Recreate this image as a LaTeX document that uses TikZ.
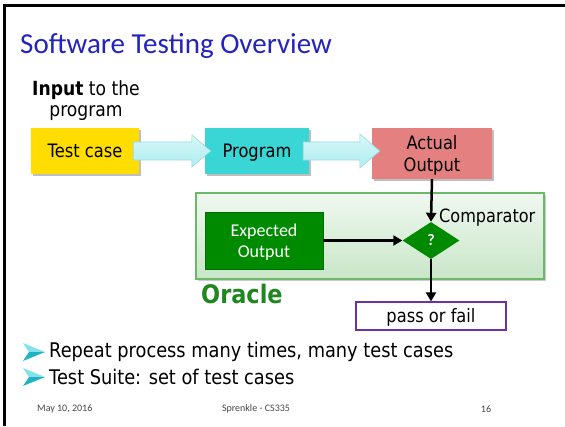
\documentclass[tikz,border=0pt]{standalone}
\usepackage{fontspec}
\setmainfont{DejaVu Sans}[FakeStretch=0.88]
\newfontfamily\calfont{Carlito}
\usetikzlibrary{shapes.geometric,calc,arrows.meta,shadows}
\definecolor{titleblue}{RGB}{35,35,190}
\definecolor{tcyellow}{RGB}{255,221,0}
\definecolor{progcyan}{RGB}{58,213,213}
\definecolor{actred}{RGB}{229,128,128}
\definecolor{expgreen}{RGB}{0,138,0}
\definecolor{oracleline}{RGB}{107,184,107}
\definecolor{oracletop}{RGB}{240,248,240}
\definecolor{oraclebot}{RGB}{200,230,200}
\definecolor{oracletext}{RGB}{30,135,30}
\definecolor{arrowtop}{RGB}{214,248,248}
\definecolor{arrowbot}{RGB}{176,236,240}
\definecolor{arrowline}{RGB}{150,218,224}
\definecolor{pofpurple}{RGB}{112,48,160}
\definecolor{bullight}{RGB}{130,225,235}
\definecolor{buldark}{RGB}{30,180,196}
\definecolor{footgray}{RGB}{70,70,70}
\tikzset{
  flowbox/.style={rectangle, inner sep=0pt, align=center,
    font=\fontsize{18.5}{22}\selectfont,
    drop shadow={shadow xshift=1.5pt, shadow yshift=-1.5pt, opacity=0.25, fill=black}},
  oneline/.style={text height=13pt, text depth=0pt},
  conn/.style={line width=2.5pt, -{Triangle[width=10pt,length=9pt]}},
  blockarrow/.style={top color=arrowtop, bottom color=arrowbot, draw=arrowline, line width=0.6pt},
  bulletup/.style={fill=bullight},
  bulletdown/.style={fill=buldark},
  bullettext/.style={anchor=west, inner sep=0pt, font=\fontsize{20.2}{22}\selectfont},
  foot/.style={inner sep=0pt, text=footgray, font=\calfont\fontsize{10}{12}\selectfont}
}
\begin{document}
\begin{tikzpicture}[x=1pt,y=-1pt]
\useasboundingbox (0,0) rectangle (565,426);
\fill[white] (0,0) rectangle (565,426);
\draw[line width=2.5pt] (4.5,426) -- (4.5,5.5) -- (565,5.5);

% title
\node[anchor=west, inner sep=0pt, text=titleblue, font=\calfont\fontsize{29}{32}\selectfont] (title) at (20,46) {Software Testing Overview};

% input label
\node[align=center, inner sep=0pt, font=\fontsize{19.5}{21}\selectfont] (inlbl) at (86,101) {\textbf{Input} to the\\program};

% boxes
\node[flowbox, oneline, fill=tcyellow, minimum width=108pt, minimum height=46pt] (tc) at (85,151) {Test case};
\node[flowbox, oneline, fill=progcyan, minimum width=104pt, minimum height=46pt] (prog) at (257,151) {Program};
\node[flowbox, text depth=0pt, fill=actred, minimum width=120pt, minimum height=51pt] (act) at (432,153.5) {Actual\\Output};

% block arrows
\path[blockarrow] ($(tc.east)+(-6,-9)$) -- ($(tc.east -| prog.west)+(-13,-9)$) -- ($(tc.east -| prog.west)+(-13,-16)$)
  -- ($(tc.east -| prog.west)+(6,0)$) -- ($(tc.east -| prog.west)+(-13,16)$) -- ($(tc.east -| prog.west)+(-13,9)$)
  -- ($(tc.east)+(-6,9)$) -- cycle;
\path[blockarrow] ($(prog.east)+(-6,-9)$) -- ($(prog.east -| act.west)+(-12,-9)$) -- ($(prog.east -| act.west)+(-12,-17)$)
  -- ($(prog.east -| act.west)+(8,0)$) -- ($(prog.east -| act.west)+(-12,17)$) -- ($(prog.east -| act.west)+(-12,9)$)
  -- ($(prog.east)+(-6,9)$) -- cycle;

% oracle
\node[rectangle, minimum width=348pt, minimum height=86pt, top color=oracletop, bottom color=oraclebot,
  draw=oracleline, line width=1.2pt, drop shadow={shadow xshift=1.5pt, shadow yshift=-1.5pt, opacity=0.2, fill=black}] (oracle) at (370,236) {};
\node[rectangle, inner sep=0pt, text depth=0pt, minimum width=118pt, minimum height=57pt, fill=expgreen, draw=expgreen!80!black, line width=0.8pt,
  text=white, align=center, font=\calfont\fontsize{18}{21}\selectfont] (exp) at (264,240.5) {Expected\\Output};
\node[diamond, inner sep=0pt, minimum width=57pt, minimum height=37pt, fill=expgreen, text=white,
  font=\calfont\bfseries\fontsize{16}{18}\selectfont] (dia) at (431,240.5) {?};
\node[anchor=west, inner sep=0pt, font=\fontsize{18.3}{21}\selectfont] (cmp) at (439,218) {Comparator};
\node[anchor=west, inner sep=0pt, text=oracletext, font=\bfseries\fontsize{25.5}{28}\selectfont] (orlbl) at (201,294) {Oracle};

\node[rectangle, inner sep=0pt, oneline, minimum width=150pt, minimum height=28pt, draw=pofpurple, line width=1.2pt, fill=white,
  font=\fontsize{18.5}{21}\selectfont] (pof) at (431,316) {pass or fail};

% connectors
\draw[conn] (act.south) -- (dia.north);
\draw[conn] (exp.east) -- (dia.west);
\draw[conn] (dia.south) -- (pof.north);

% bullets
\fill[bulletup] (23,343) -- (45,352) -- (29,352) -- cycle;
\fill[bulletdown] (29,352) -- (45,352) -- (23,361) -- cycle;
\node[bullettext] (b1) at (49,352) {Repeat process many times, many test cases};
\fill[bulletup] (23,368) -- (45,377) -- (29,377) -- cycle;
\fill[bulletdown] (29,377) -- (45,377) -- (23,386) -- cycle;
\node[bullettext] (b2) at (49,377) {Test Suite: set of test cases};

% footer
\node[foot, anchor=west] (f1) at (37,409) {May 10, 2016};
\node[foot] (f2) at (256,409) {Sprenkle - CS335};
\node[foot] (f3) at (486,409) {16};
\end{tikzpicture}
\end{document}
